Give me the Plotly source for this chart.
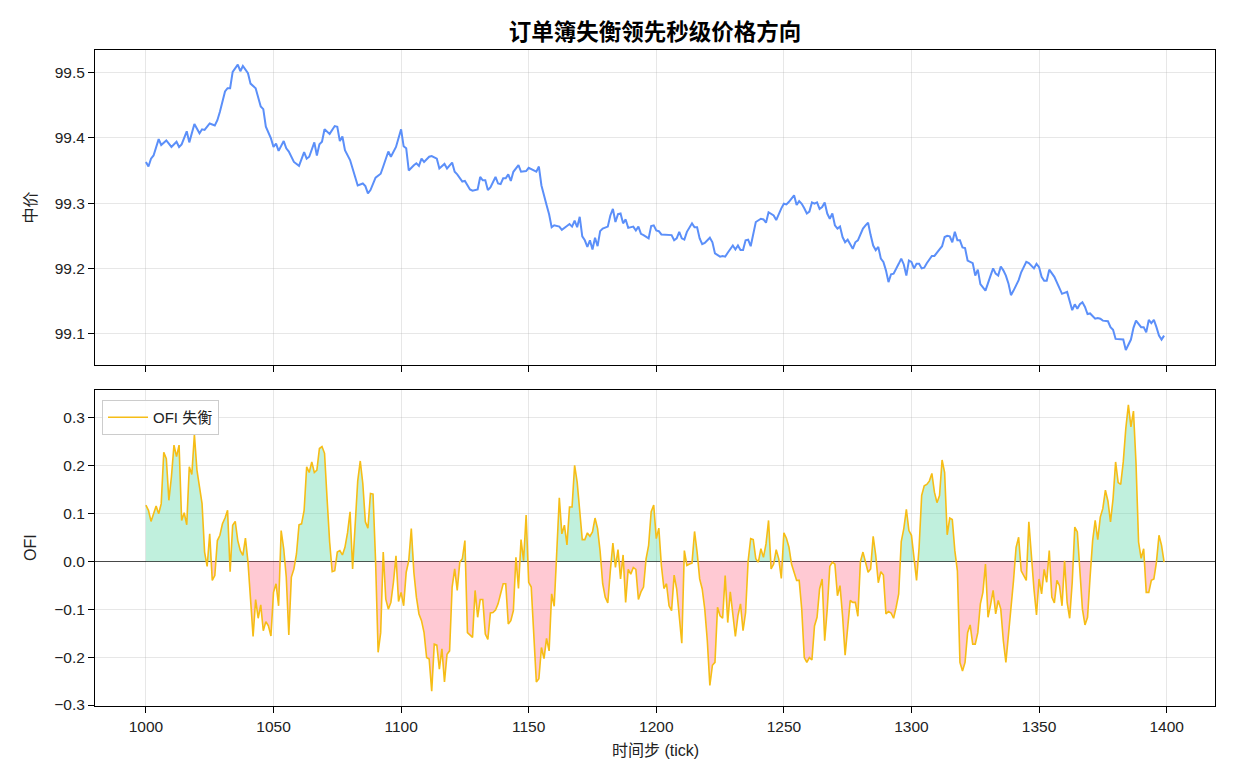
import plotly.graph_objects as go

# ---------------- data ----------------
mid_ticks = [
    1000, 1001, 1002, 1003, 1005, 1006, 1008, 1010, 1012, 1013, 1014, 1016, 1017, 1019,
    1021, 1022, 1023, 1025, 1027, 1028, 1029, 1031, 1032, 1033, 1034, 1036, 1037, 1038,
    1040, 1041, 1043, 1045, 1046, 1047, 1049, 1050, 1051, 1052, 1054, 1055, 1056, 1058,
    1060, 1062, 1063, 1064, 1066, 1067, 1068, 1069, 1070, 1072, 1074, 1075, 1076, 1077,
    1078, 1080, 1082, 1083, 1085, 1086, 1087, 1088, 1090, 1092, 1093, 1095, 1096, 1098,
    1100, 1101, 1102, 1103, 1105, 1106, 1107, 1108, 1109, 1111, 1112, 1114, 1115, 1116,
    1117, 1118, 1120, 1121, 1122, 1124, 1125, 1127, 1128, 1130, 1131, 1132, 1133, 1134,
    1135, 1137, 1138, 1139, 1140, 1141, 1142, 1143, 1144, 1146, 1147, 1149, 1150, 1152,
    1153, 1154, 1155, 1157, 1158, 1159, 1160, 1162, 1163, 1165, 1166, 1167, 1168, 1169,
    1170, 1171, 1172, 1173, 1174, 1175, 1176, 1177, 1178, 1179, 1181, 1182, 1183, 1184,
    1185, 1186, 1187, 1188, 1189, 1191, 1192, 1193, 1194, 1195, 1197, 1198, 1199, 1200,
    1201, 1202, 1203, 1205, 1206, 1207, 1208, 1209, 1210, 1211, 1212, 1214, 1215, 1216,
    1217, 1218, 1219, 1221, 1222, 1223, 1224, 1225, 1226, 1227, 1228, 1229, 1230, 1231,
    1232, 1233, 1234, 1235, 1236, 1237, 1238, 1239, 1241, 1242, 1243, 1244, 1246, 1247,
    1249, 1250, 1251, 1252, 1254, 1255, 1256, 1257, 1258, 1259, 1260, 1261, 1262, 1263,
    1264, 1265, 1266, 1267, 1268, 1269, 1270, 1271, 1272, 1273, 1274, 1275, 1277, 1278,
    1279, 1280, 1281, 1282, 1283, 1284, 1285, 1286, 1287, 1288, 1289, 1290, 1291, 1292,
    1293, 1295, 1296, 1297, 1298, 1299, 1300, 1301, 1302, 1303, 1304, 1305, 1306, 1308,
    1309, 1311, 1312, 1313, 1314, 1315, 1316, 1317, 1318, 1319, 1320, 1321, 1322, 1324,
    1325, 1326, 1327, 1329, 1330, 1331, 1332, 1333, 1334, 1335, 1336, 1337, 1338, 1339,
    1340, 1341, 1342, 1343, 1345, 1346, 1348, 1349, 1350, 1351, 1352, 1353, 1354, 1356,
    1357, 1358, 1359, 1361, 1362, 1363, 1364, 1365, 1366, 1367, 1368, 1369, 1370, 1372,
    1373, 1374, 1375, 1377, 1378, 1379, 1380, 1382, 1383, 1384, 1386, 1387, 1388, 1390,
    1391, 1392, 1393, 1394, 1395, 1396, 1397, 1398, 1399,
]
mid_price = [
    99.363, 99.356, 99.368, 99.373, 99.398, 99.389, 99.396, 99.386, 99.394, 99.386, 99.390, 99.410, 99.393, 99.421,
    99.407, 99.413, 99.412, 99.422, 99.419, 99.427, 99.440, 99.471, 99.476, 99.476, 99.501, 99.512, 99.502, 99.510,
    99.499, 99.483, 99.476, 99.448, 99.444, 99.417, 99.399, 99.386, 99.391, 99.380, 99.395, 99.384, 99.379, 99.363,
    99.357, 99.378, 99.368, 99.371, 99.393, 99.373, 99.390, 99.394, 99.413, 99.406, 99.418, 99.417, 99.395, 99.402,
    99.381, 99.366, 99.340, 99.327, 99.330, 99.326, 99.315, 99.320, 99.339, 99.345, 99.356, 99.379, 99.371, 99.386,
    99.413, 99.387, 99.384, 99.350, 99.358, 99.361, 99.357, 99.368, 99.363, 99.371, 99.372, 99.368, 99.353, 99.356,
    99.360, 99.353, 99.362, 99.348, 99.344, 99.333, 99.334, 99.321, 99.319, 99.321, 99.340, 99.335, 99.335, 99.320,
    99.324, 99.340, 99.330, 99.329, 99.338, 99.338, 99.344, 99.334, 99.348, 99.358, 99.348, 99.349, 99.354, 99.350,
    99.348, 99.356, 99.327, 99.297, 99.283, 99.263, 99.266, 99.264, 99.259, 99.265, 99.268, 99.264, 99.273, 99.263,
    99.279, 99.249, 99.243, 99.233, 99.243, 99.229, 99.247, 99.234, 99.257, 99.261, 99.264, 99.281, 99.291, 99.271,
    99.283, 99.284, 99.269, 99.275, 99.262, 99.264, 99.258, 99.264, 99.253, 99.251, 99.246, 99.265, 99.266, 99.258,
    99.257, 99.252, 99.252, 99.252, 99.251, 99.243, 99.246, 99.256, 99.246, 99.244, 99.256, 99.269, 99.263, 99.263,
    99.246, 99.237, 99.239, 99.247, 99.240, 99.223, 99.220, 99.218, 99.219, 99.218, 99.224, 99.229, 99.235, 99.229,
    99.235, 99.228, 99.228, 99.243, 99.244, 99.234, 99.252, 99.271, 99.276, 99.275, 99.270, 99.286, 99.281, 99.274,
    99.292, 99.299, 99.298, 99.302, 99.312, 99.297, 99.303, 99.299, 99.292, 99.284, 99.287, 99.301, 99.299, 99.301,
    99.291, 99.294, 99.301, 99.284, 99.276, 99.284, 99.266, 99.261, 99.264, 99.248, 99.240, 99.244, 99.230, 99.240,
    99.243, 99.251, 99.261, 99.266, 99.270, 99.251, 99.235, 99.228, 99.233, 99.215, 99.210, 99.197, 99.179, 99.191,
    99.192, 99.207, 99.215, 99.206, 99.189, 99.212, 99.210, 99.200, 99.207, 99.207, 99.200, 99.201, 99.208, 99.219,
    99.219, 99.229, 99.234, 99.248, 99.250, 99.249, 99.240, 99.256, 99.243, 99.243, 99.232, 99.231, 99.212, 99.208,
    99.189, 99.198, 99.176, 99.166, 99.179, 99.189, 99.200, 99.192, 99.189, 99.203, 99.197, 99.189, 99.177, 99.159,
    99.166, 99.174, 99.182, 99.194, 99.210, 99.208, 99.200, 99.207, 99.202, 99.187, 99.181, 99.181, 99.198, 99.187,
    99.179, 99.169, 99.161, 99.164, 99.150, 99.136, 99.145, 99.138, 99.145, 99.148, 99.141, 99.130, 99.131, 99.123,
    99.124, 99.123, 99.120, 99.119, 99.110, 99.106, 99.092, 99.091, 99.091, 99.075, 99.091, 99.109, 99.120, 99.110,
    99.110, 99.102, 99.121, 99.116, 99.121, 99.110, 99.097, 99.091, 99.097,
]

ofi_start = 1000
ofi_values = [
    0.117, 0.106, 0.083, 0.099, 0.115, 0.099, 0.120, 0.227, 0.214, 0.127,
    0.176, 0.242, 0.218, 0.242, 0.085, 0.101, 0.076, 0.197, 0.181, 0.264,
    0.190, 0.155, 0.120, 0.019, -0.011, 0.057, -0.040, -0.030, 0.043, 0.054,
    0.078, 0.090, 0.106, -0.022, 0.075, 0.083, 0.043, 0.022, 0.012, 0.048,
    -0.002, -0.079, -0.157, -0.080, -0.119, -0.091, -0.145, -0.126, -0.135, -0.156,
    -0.065, -0.047, -0.093, 0.064, 0.026, -0.033, -0.154, -0.033, -0.016, 0.015,
    0.076, 0.078, 0.106, 0.197, 0.185, 0.207, 0.185, 0.190, 0.235, 0.239,
    0.225, 0.130, 0.040, -0.022, -0.020, 0.019, 0.022, 0.013, 0.029, 0.059,
    0.103, -0.016, 0.085, 0.167, 0.209, 0.162, 0.082, 0.069, 0.141, 0.140,
    0.001, -0.190, -0.149, 0.019, -0.079, -0.100, -0.086, -0.044, 0.011, -0.084,
    -0.065, -0.093, -0.023, 0.001, 0.068, -0.023, -0.075, -0.110, -0.124, -0.149,
    -0.201, -0.204, -0.271, -0.173, -0.175, -0.225, -0.183, -0.252, -0.194, -0.187,
    -0.054, -0.016, -0.061, -0.002, 0.005, 0.043, -0.149, -0.154, -0.159, -0.061,
    -0.117, -0.080, -0.080, -0.152, -0.163, -0.108, -0.107, -0.102, -0.089, -0.068,
    -0.047, -0.047, -0.131, -0.124, -0.103, 0.008, -0.057, 0.045, 0.001, 0.096,
    -0.044, -0.054, -0.156, -0.252, -0.245, -0.180, -0.203, -0.161, -0.187, -0.068,
    -0.094, 0.012, 0.132, 0.057, 0.075, 0.034, 0.113, 0.113, 0.200, 0.165,
    0.099, 0.045, 0.045, 0.059, 0.052, 0.061, 0.090, 0.068, 0.020, -0.047,
    -0.075, -0.087, -0.020, 0.038, -0.013, 0.024, -0.037, 0.013, -0.086, -0.017,
    -0.027, -0.013, -0.017, -0.080, -0.064, -0.054, 0.005, 0.033, 0.103, 0.117,
    0.047, 0.069, -0.009, -0.057, -0.047, -0.093, -0.103, -0.029, -0.058, -0.114,
    -0.171, 0.022, -0.009, -0.006, -0.004, 0.062, 0.019, -0.037, -0.058, -0.100,
    -0.166, -0.259, -0.217, -0.211, -0.096, -0.114, -0.119, -0.030, -0.128, -0.064,
    -0.114, -0.157, -0.114, -0.089, -0.145, -0.107, 0.001, 0.047, 0.045, 0.005,
    -0.002, 0.026, 0.008, 0.036, 0.085, -0.016, -0.006, 0.024, 0.005, -0.036,
    0.059, 0.048, 0.029, -0.006, -0.023, -0.040, -0.040, -0.100, -0.201, -0.211,
    -0.201, -0.206, -0.135, -0.117, -0.058, -0.037, -0.166, -0.100, -0.011, -0.002,
    -0.006, -0.072, -0.051, -0.114, -0.196, -0.145, -0.082, -0.086, -0.086, -0.115,
    -0.001, 0.019, -0.002, -0.023, -0.016, 0.052, 0.012, -0.045, -0.022, -0.029,
    -0.110, -0.105, -0.108, -0.119, -0.096, -0.068, 0.041, 0.068, 0.108, 0.064,
    0.054, 0.001, -0.040, 0.029, 0.137, 0.157, 0.160, 0.167, 0.183, 0.144,
    0.122, 0.137, 0.211, 0.185, 0.055, 0.090, 0.087, 0.022, -0.020, -0.211,
    -0.229, -0.211, -0.149, -0.133, -0.173, -0.173, -0.149, -0.089, -0.065, -0.006,
    -0.117, -0.091, -0.061, -0.110, -0.082, -0.100, -0.166, -0.211, -0.156, -0.100,
    -0.040, 0.029, 0.050, -0.020, -0.030, -0.040, 0.082, 0.005, -0.058, -0.112,
    -0.037, -0.068, -0.017, -0.044, 0.022, -0.075, -0.087, -0.040, -0.051, -0.093,
    0.001, -0.086, -0.119, -0.044, 0.071, 0.061, -0.023, -0.100, -0.133, -0.117,
    -0.033, 0.043, 0.085, 0.045, 0.092, 0.110, 0.148, 0.125, 0.082, 0.130,
    0.207, 0.164, 0.160, 0.207, 0.277, 0.326, 0.280, 0.313, 0.204, 0.040,
    0.006, 0.026, -0.065, -0.065, -0.040, -0.037, -0.002, 0.054, 0.033, -0.002,
]
ofi_ticks = list(range(ofi_start, ofi_start + len(ofi_values)))

x_ticks = [1000, 1050, 1100, 1150, 1200, 1250, 1300, 1350, 1400]
price_ticks = [99.1, 99.2, 99.3, 99.4, 99.5]
ofi_axis_ticks = [-0.3, -0.2, -0.1, 0.0, 0.1, 0.2, 0.3]

title_text = "订单簿失衡领先秒级价格方向"
ylabel_top = "中价"
ylabel_bottom = "OFI"
xlabel = "时间步 (tick)"
legend_name = "OFI 失衡"

# ---------------- helpers ----------------
def signed_part(xs, ys, positive):
    """Part of the series on one side of zero, with the zero crossings added."""
    ox, oy = [], []
    for i, (x, y) in enumerate(zip(xs, ys)):
        if i > 0:
            y0 = ys[i - 1]
            if (y0 > 0 and y < 0) or (y0 < 0 and y > 0):
                xc = xs[i - 1] + (x - xs[i - 1]) * y0 / (y0 - y)
                ox.append(xc)
                oy.append(0.0)
        ox.append(x)
        oy.append(max(y, 0.0) if positive else min(y, 0.0))
    return ox, oy

FONT = "Liberation Sans, Noto Sans CJK SC, sans-serif"
MID_COLOR = "#5B8FF9"
OFI_COLOR = "#F6BD16"
POS_FILL = "rgba(90,216,166,0.38)"
NEG_FILL = "rgba(255,77,109,0.30)"
GRID = "rgba(176,176,176,0.30)"

fig = go.Figure()

fig.add_trace(go.Scatter(
    x=mid_ticks, y=mid_price, mode="lines", xaxis="x", yaxis="y",
    line=dict(color=MID_COLOR, width=2), showlegend=False, name="中价",
))

px_, py_ = signed_part(ofi_ticks, ofi_values, True)
nx_, ny_ = signed_part(ofi_ticks, ofi_values, False)
fig.add_trace(go.Scatter(
    x=px_, y=py_, mode="lines", xaxis="x2", yaxis="y2", fill="tozeroy",
    fillcolor=POS_FILL, line=dict(width=0), showlegend=False, hoverinfo="skip",
))
fig.add_trace(go.Scatter(
    x=nx_, y=ny_, mode="lines", xaxis="x2", yaxis="y2", fill="tozeroy",
    fillcolor=NEG_FILL, line=dict(width=0), showlegend=False, hoverinfo="skip",
))
fig.add_trace(go.Scatter(
    x=ofi_ticks, y=ofi_values, mode="lines", xaxis="x2", yaxis="y2",
    line=dict(color=OFI_COLOR, width=1.6), name=legend_name, showlegend=True,
))

axis_common = dict(
    showline=True, linecolor="black", linewidth=1, mirror=True,
    ticks="outside", ticklen=6, tickwidth=1.2, tickcolor="black",
    showgrid=True, gridcolor=GRID, gridwidth=1, zeroline=False,
    tickfont=dict(size=15.5, color="#222222", family=FONT),
)

XR = [980.05, 1418.95]
top_dom = [0.5198, 1.0]
bot_dom = [0.0, 0.4817]

fig.update_layout(
    width=1235, height=780,
    margin=dict(l=95, r=20, t=50, b=74),
    paper_bgcolor="white", plot_bgcolor="white",
    font=dict(family=FONT, size=15.5, color="#222222"),
    title=dict(text="<b>" + title_text + "</b>", x=0.5, xref="paper",
               y=1 - 32 / 780, yref="container", xanchor="center", yanchor="middle",
               font=dict(size=22.5, color="black", family=FONT)),
    xaxis=dict(domain=[0, 1], range=XR, tickvals=x_ticks, showticklabels=False,
               anchor="y", **axis_common),
    yaxis=dict(domain=top_dom, range=[99.052, 99.5345], tickvals=price_ticks,
               tickformat=".1f", anchor="x", **axis_common),
    xaxis2=dict(domain=[0, 1], range=XR, tickvals=x_ticks, matches="x",
                anchor="y2", **axis_common),
    yaxis2=dict(domain=bot_dom, range=[-0.302, 0.357], tickvals=ofi_axis_ticks,
                tickformat=".1f", anchor="x2", **{**axis_common, "zeroline": True},
                zerolinecolor="rgba(40,40,40,0.85)", zerolinewidth=1.2),
    legend=dict(x=0.00625, y=0.4665, xanchor="left", yanchor="top",
                bgcolor="rgba(255,255,255,0.85)", bordercolor="#CCCCCC", borderwidth=1,
                itemwidth=40,
                font=dict(size=15, family=FONT, color="#222222")),
    showlegend=True,
    annotations=[
        dict(text=ylabel_top, xref="paper", yref="paper", x=-0.058,
             y=(top_dom[0] + top_dom[1]) / 2, textangle=-90, showarrow=False,
             xanchor="center", yanchor="middle", font=dict(size=16, family=FONT, color="#222222")),
        dict(text=ylabel_bottom, xref="paper", yref="paper", x=-0.058,
             y=(bot_dom[0] + bot_dom[1]) / 2, textangle=-90, showarrow=False,
             xanchor="center", yanchor="middle", font=dict(size=16, family=FONT, color="#222222")),
        dict(text=xlabel, xref="paper", yref="paper", x=0.5, y=-44 / 656,
             showarrow=False, xanchor="center", yanchor="middle",
             font=dict(size=16, family=FONT, color="#222222")),
    ],
)

fig.write_html("out.html")
